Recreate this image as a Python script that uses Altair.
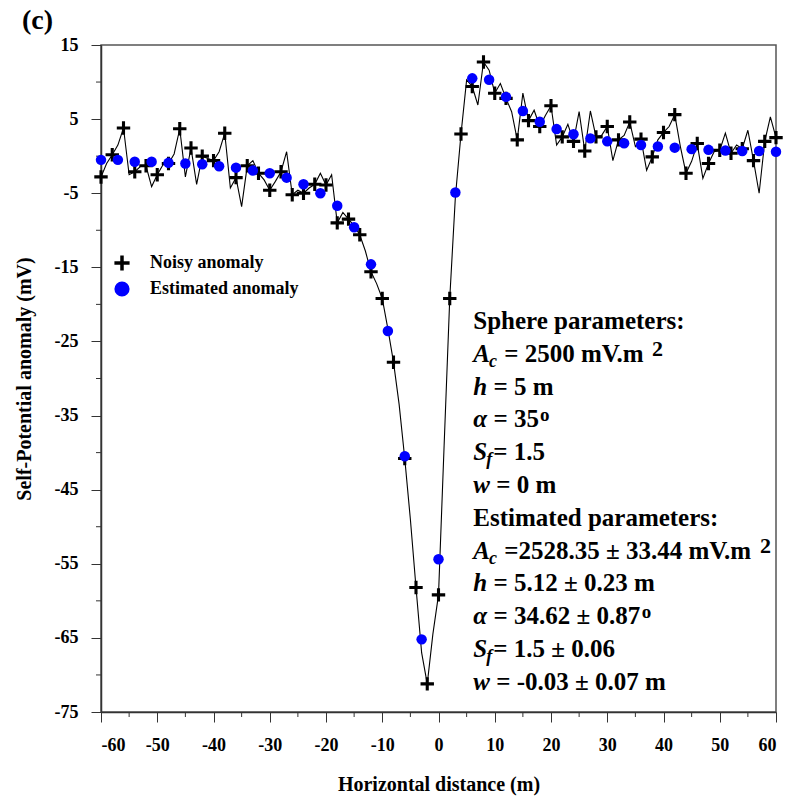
import altair as alt
import pandas as pd

# ---------------- data ----------------
x_noisy = list(range(-60, 61))
sp_noisy = [
    -2.8, -1.0, 0.2, 1.5, 3.8, -2.5, -2.1, -1.4, -1.3, -4.1,
    -2.5, -1.2, -1.0, 0.3, 3.7, -2.8, 1.1, -3.8, 0.0, -0.3,
    -0.6, 0.6, 3.1, -4.3, -2.9, -6.8, -1.3, -0.6, -2.3, -3.2,
    -4.6, -3.4, -2.1, 0.6, -5.2, -4.6, -5.0, -4.3, -3.8, -2.3,
    -3.9, -2.5, -9.0, -7.6, -8.5, -9.4, -10.6, -12.8, -15.6, -17.2,
    -19.2, -23.3, -27.8, -33.5, -40.8, -49.0, -58.2, -67.0, -71.2, -64.5,
    -59.2, -39.0, -19.2, -5.5, 3.0, 10.3, 9.4, 6.9, 12.7, 11.6,
    8.5, 9.8, 7.8, 6.0, 2.2, 8.5, 4.8, 6.2, 4.0, 5.5,
    6.8, 1.5, 2.6, 4.3, 2.0, 6.0, 0.7, 6.1, 2.6, 2.8,
    4.0, -0.6, 2.2, 2.8, 4.6, 1.3, 2.3, -1.9, -0.1, 2.2,
    3.2, 4.0, 5.6, 1.3, -2.3, -0.7, 1.7, -3.0, -1.0, 0.6,
    0.8, 3.1, 0.4, 1.5, 1.0, 3.5, -0.6, -5.0, 2.0, 5.3,
    2.5,
]
x_est = list(range(-60, 61, 3))
sp_est = [
    -0.5, -0.5, -0.75, -0.75, -0.9, -1.0, -1.1, -1.35, -1.55, -1.95,
    -2.3, -2.9, -3.8, -5.0, -6.7, -9.6, -14.6, -23.6, -40.5, -65.2,
    -54.4, -4.9, 10.5, 10.3, 8.0, 6.1, 4.65, 3.65, 2.95, 2.4,
    2.0, 1.75, 1.5, 1.3, 1.15, 0.95, 0.85, 0.75, 0.7, 0.7, 0.6,
]
series_names = ["Noisy anomaly", "Estimated anomaly"]

x_major = list(range(-60, 61, 10))
x_minor = list(range(-55, 56, 10))
y_major = list(range(-75, 16, 10))
y_minor = list(range(-70, 11, 10))

x_title = "Horizontal distance (m)"
y_title = "Self-Potential anomaly (mV)"
panel_label = "(c)"

param_header = ["Sphere parameters:", "Estimated parameters:"]
param_symbols = ["A", "h", "α", "S", "w"]
param_subs = ["c", "", "", "f", ""]
true_values = [" = 2500 mV.m", " = 5 m", " = 35", "= 1.5", " = 0 m"]
est_values = [" =2528.35 ± 33.44 mV.m", " = 5.12 ± 0.23 m", " = 34.62 ± 0.87",
              "= 1.5 ± 0.06", " = -0.03 ± 0.07 m"]
param_sups = ["2", "", "o", "", ""]

# ---------------- layout ----------------
FONT = "Liberation Serif"
W, H = 675, 667
PAD = {"left": 101, "top": 45, "right": 12, "bottom": 84}
AXC = "#333333"

xscale = alt.Scale(domain=[-60, 60], nice=False, zero=False)
yscale = alt.Scale(domain=[-75, 15], nice=False, zero=False)

line_df = pd.DataFrame({"x": x_noisy, "sp": sp_noisy})
cross_df = line_df.iloc[::2].copy()
cross_df["series"] = series_names[0]
est_df = pd.DataFrame({"x": x_est, "sp": sp_est})
est_df["series"] = series_names[1]

xaxis = alt.Axis(values=x_major, title=x_title, grid=False, tickSize=10,
                 labelPadding=14, labelExpr="'' + datum.value",
                 titleY=78, titleBaseline="alphabetic")
yaxis = alt.Axis(values=y_major, title=y_title, grid=False, tickSize=10,
                 labelPadding=13, labelExpr="'' + datum.value",
                 titleX=-71, titleY=H / 2, titleBaseline="alphabetic")

X = lambda f: alt.X(f, scale=xscale, axis=xaxis)
Y = lambda f: alt.Y(f, scale=yscale, axis=yaxis)

line = alt.Chart(line_df).mark_line(color="black", strokeWidth=1.1).encode(
    x=X("x:Q"), y=Y("sp:Q"))

cross_path = "M-1,-0.23H1V0.23H-1Z M-0.23,-1H0.23V1H-0.23Z"
color_scale = alt.Scale(domain=series_names, range=["#000000", "#0000ff"])
shape_scale = alt.Scale(domain=series_names, range=[cross_path, "circle"])
legend = alt.Legend(title=None, orient="none", legendX=12, legendY=209,
                    labelFont=FONT, labelFontSize=18, labelFontWeight="bold",
                    labelColor="black", symbolSize=230, symbolStrokeWidth=0,
                    labelOffset=19, rowPadding=8, padding=0)


def points(df, size):
    return alt.Chart(df).mark_point(filled=True, opacity=1, strokeWidth=0).encode(
        x=X("x:Q"), y=Y("sp:Q"),
        color=alt.Color("series:N", scale=color_scale, legend=legend),
        shape=alt.Shape("series:N", scale=shape_scale, legend=legend),
        size=alt.value(size),
    )


crosses = points(cross_df, 180)
circles = points(est_df, 110)

ymin = alt.Chart(pd.DataFrame({"v": y_minor})).mark_rule(color=AXC, strokeWidth=1).encode(
    y=Y("v:Q"), x=alt.value(-5), x2=alt.value(0))
xmin = alt.Chart(pd.DataFrame({"v": x_minor})).mark_rule(color=AXC, strokeWidth=1).encode(
    x=X("v:Q"), y=alt.value(H), y2=alt.value(H + 5))

one = pd.DataFrame({"a": [0]})


def txt(t, x, y, size, italic=False):
    kw = dict(align="left", baseline="alphabetic", font=FONT, fontSize=size,
              fontWeight="bold", color="black")
    if italic:
        kw["fontStyle"] = "italic"
    return alt.Chart(one).mark_text(**kw).encode(
        x=alt.value(x), y=alt.value(y), text=alt.value(t))


# Times-Bold / Bold-Italic advance widths (per 1000 em)
WB = {" ": 250, "=": 570, ".": 250, "-": 333, "±": 570, "m": 833, "V": 722, ":": 333}
WBI = {"A": 667, "h": 556, "α": 560, "S": 556, "w": 667, "c": 444, "f": 333}


def width(s, size):
    return sum(WB.get(ch, 500) for ch in s) * size / 1000.0


F = 25
FS = 18
X0 = 372.3
Y0 = 284.0
DY = 32.8

layers = [line, xmin, ymin, crosses, circles]
layers.append(txt(panel_label, -79, -16, 28))

row = 0
for header, values in zip(param_header, [true_values, est_values]):
    layers.append(txt(header, X0, Y0 + DY * row, F))
    row += 1
    for sym, sub, val, sup in zip(param_symbols, param_subs, values, param_sups):
        yb = Y0 + DY * row
        layers.append(txt(sym, X0, yb, F, italic=True))
        xs = X0 + WBI[sym] * F / 1000.0
        if sub:
            layers.append(txt(sub, xs - 1, yb + 5, FS, italic=True))
            xs += WBI[sub] * FS / 1000.0
        lead = len(val) - len(val.lstrip(" "))
        body = val.lstrip(" ")
        xb = xs + lead * WB[" "] * F / 1000.0
        layers.append(txt(body, xb, yb, F))
        xe = xb + width(body, F)
        if sup == "2":
            layers.append(txt(sup, xe + 5, yb - 6, 22))
        elif sup == "o":
            layers.append(txt(sup, xe + 1, yb - 6, 19))
        row += 1

chart = alt.layer(*layers).properties(
    width=W, height=H,
    autosize=alt.AutoSizeParams(type="none"),
    padding=PAD,
    background="white",
).configure_view(
    stroke="#555555", strokeWidth=1.5
).configure_axis(
    domainColor=AXC, domainWidth=1.5, tickColor=AXC, tickWidth=1,
    labelFont=FONT, labelFontSize=18, labelFontWeight="bold", labelColor="black",
    titleFont=FONT, titleFontSize=20, titleFontWeight="bold", titleColor="black",
)

chart.save("out.html", embed_options={"renderer": "svg", "actions": False})
